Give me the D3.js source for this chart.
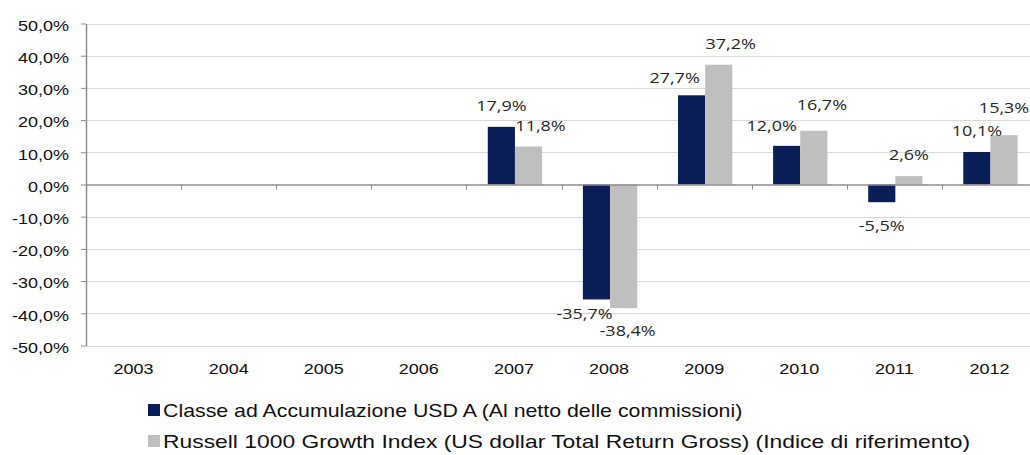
<!DOCTYPE html>
<html>
<head>
<meta charset="utf-8">
<script src="https://cdn.jsdelivr.net/npm/d3@7"></script>
<style>
  html, body { margin: 0; padding: 0; background: #fff; }
  svg { display: block; }
  .axis-label { font-family: "Liberation Sans", Arial, sans-serif; font-size: 15px; fill: #111; }
  .data-label { font-family: "Open Sans", "Noto Sans", sans-serif; font-size: 15px; fill: #262626; }
  .legend-label { font-family: "Liberation Sans", Arial, sans-serif; font-size: 18px; fill: #111; }
</style>
</head>
<body>
<div id="chart"></div>
<script>
// dati
const years = ['2003', '2004', '2005', '2006', '2007', '2008', '2009', '2010', '2011', '2012'];
const fundValues = [null, null, null, null, 17.9, -35.7, 27.7, 12.0, -5.5, 10.1];
const indexValues = [null, null, null, null, 11.8, -38.4, 37.2, 16.7, 2.6, 15.3];
const seriesNames = [
    'Classe ad Accumulazione USD A (Al netto delle commissioni)',
    'Russell 1000 Growth Index (US dollar Total Return Gross) (Indice di riferimento)'
];
const yTicks = [-50, -40, -30, -20, -10, 0, 10, 20, 30, 40, 50];

// spostamenti manuali delle etichette [dx, dy] come nell'originale
const fundNudge = [null, null, null, null, [0, -16], [-12, 20], [-17, -12], [-15, -15], [0, 29], [0, -16]];
const indexNudge = [null, null, null, null, [12, -16], [4, 28], [12, -16], [8, -21], [0, -16], [0, -22]];

const colors = ['#0a1f57', '#bfbfbf'];
const stretch = 1.2; // il testo originale e' allargato in orizzontale
const legendStretch = [1.185, 1.27];

const width = 1030, height = 455;
const margin = { left: 86, top: 23.5, bottom: 345.5 };

const svg = d3.select('#chart').append('svg')
    .attr('width', width)
    .attr('height', height);

const locale = d3.formatLocale({ decimal: ',', thousands: '.', grouping: [3], currency: ['', '€'], minus: '-' });
const fmt = v => locale.format('.1f')(v) + '%';

const y = d3.scaleLinear()
    .domain([-50, 50])
    .range([margin.bottom, margin.top]);

const x0 = d3.scaleBand()
    .domain(years)
    .range([margin.left, margin.left + 951])
    .padding(0);

const x1 = d3.scaleBand()
    .domain([0, 1])
    .range([1, x0.bandwidth() + 1])
    .paddingInner(0)
    .paddingOuter(0.75);

// griglia
svg.append('g')
    .selectAll('line')
    .data(yTicks.filter(d => d !== 0))
  .enter().append('line')
    .attr('x1', margin.left)
    .attr('x2', width)
    .attr('y1', d => Math.round(y(d)) + 0.5)
    .attr('y2', d => Math.round(y(d)) + 0.5)
    .attr('stroke', '#d9d9d9')
    .attr('stroke-width', 1);

// barre
const series = [fundValues, indexValues];
series.forEach((vals, s) => {
    svg.append('g')
        .selectAll('rect')
        .data(years.map((yr, i) => ({ yr, v: vals[i] })).filter(d => d.v !== null))
      .enter().append('rect')
        .attr('x', d => x0(d.yr) + x1(s))
        .attr('width', x1.bandwidth())
        .attr('y', d => y(Math.max(0, d.v)))
        .attr('height', d => Math.abs(y(d.v) - y(0)))
        .attr('fill', colors[s]);
});

// asse y
const yAxis = svg.append('g')
    .attr('transform', `translate(${margin.left},0)`)
    .call(d3.axisLeft(y)
        .tickValues(yTicks)
        .tickSize(5)
        .tickSizeOuter(0)
        .tickFormat(fmt));
yAxis.select('.domain').attr('stroke', '#8c8c8c').attr('stroke-width', 1.5);
yAxis.selectAll('.tick line').attr('stroke', '#8c8c8c');
yAxis.selectAll('.tick text')
    .attr('class', 'axis-label')
    .attr('font-family', null).attr('font-size', null)
    .attr('x', -17 / stretch)
    .attr('dy', '0.45em')
    .attr('transform', `scale(${stretch},1)`);

// linea dello zero con tacche fra le categorie
svg.append('line')
    .attr('x1', margin.left)
    .attr('x2', width)
    .attr('y1', y(0) + 0.5)
    .attr('y2', y(0) + 0.5)
    .attr('stroke', '#8c8c8c')
    .attr('stroke-width', 1.5);

svg.append('g')
    .selectAll('line')
    .data(years.slice(1))
  .enter().append('line')
    .attr('x1', d => Math.round(x0(d)) + 0.5)
    .attr('x2', d => Math.round(x0(d)) + 0.5)
    .attr('y1', y(0))
    .attr('y2', y(0) + 5)
    .attr('stroke', '#8c8c8c');

// etichette degli anni
svg.append('g')
    .selectAll('text')
    .data(years)
  .enter().append('text')
    .attr('class', 'axis-label')
    .attr('text-anchor', 'middle')
    .attr('transform', d => `translate(${x0(d) + x0.bandwidth() / 2},374) scale(${stretch},1)`)
    .text(d => d);

// etichette dei valori
const nudges = [fundNudge, indexNudge];
series.forEach((vals, s) => {
    svg.append('g')
        .selectAll('text')
        .data(years.map((yr, i) => ({ yr, v: vals[i], n: nudges[s][i] })).filter(d => d.v !== null))
      .enter().append('text')
        .attr('class', 'data-label')
        .attr('text-anchor', 'middle')
        .attr('transform', d => {
            const cx = x0(d.yr) + x1(s) + x1.bandwidth() / 2 + d.n[0];
            const cy = y(d.v) + d.n[1];
            return `translate(${cx},${cy}) scale(${stretch},1)`;
        })
        .text(d => fmt(d.v));
});

// legenda
const legend = svg.append('g')
    .selectAll('g')
    .data(seriesNames)
  .enter().append('g')
    .attr('transform', (d, i) => `translate(148,${404 + i * 31})`);

legend.append('rect')
    .attr('width', 12)
    .attr('height', 12)
    .attr('fill', (d, i) => colors[i]);

legend.append('text')
    .attr('class', 'legend-label')
    .attr('transform', (d, i) => `translate(15,12.5) scale(${legendStretch[i]},1)`)
    .text(d => d);
</script>
</body>
</html>
